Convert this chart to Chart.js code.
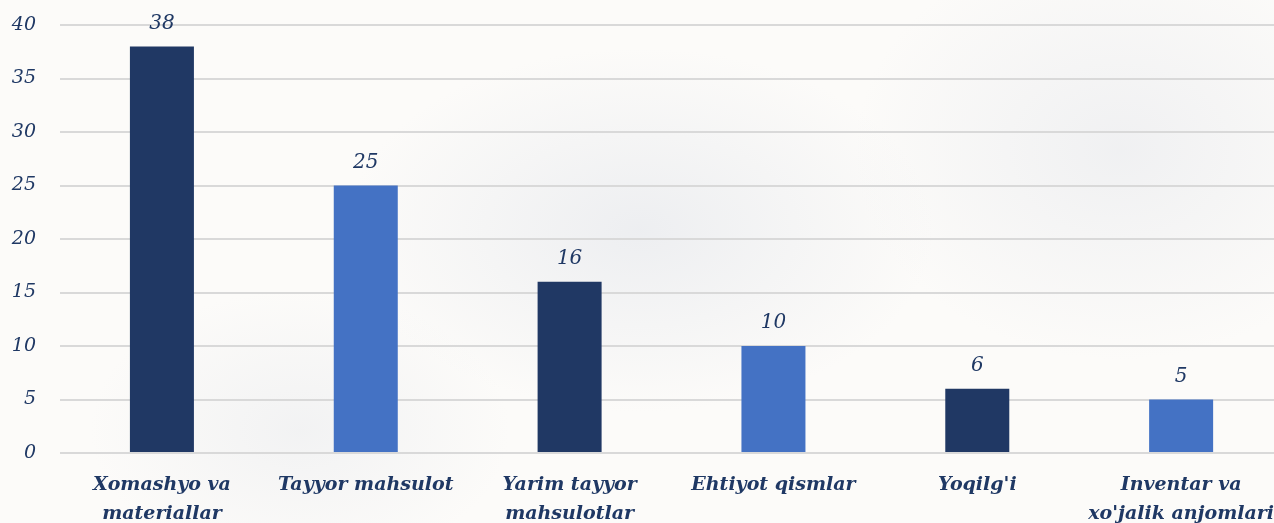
<!DOCTYPE html>
<html>
<head>
<meta charset="utf-8">
<script src="https://cdn.jsdelivr.net/npm/chart.js@4.4.0/dist/chart.umd.min.js"></script>
<style>
  html, body { margin: 0; padding: 0; overflow: hidden; width: 1274px; height: 523px; }
  body {
    background:
      radial-gradient(ellipse 420px 260px at 640px 230px, rgba(225,228,234,0.55), rgba(255,255,255,0) 70%),
      radial-gradient(ellipse 380px 300px at 1120px 150px, rgba(228,230,235,0.5), rgba(255,255,255,0) 70%),
      radial-gradient(ellipse 300px 200px at 300px 430px, rgba(230,232,236,0.45), rgba(255,255,255,0) 70%),
      #fcfbf9;
  }
  canvas { display: block; }
</style>
</head>
<body>
<canvas id="c" width="1292" height="548"></canvas>
<script>
const categories = [
  ["Xomashyo va", "materiallar"],
  "Tayyor mahsulot",
  ["Yarim tayyor", "mahsulotlar"],
  "Ehtiyot qismlar",
  "Yoqilg'i",
  ["Inventar va", "xo'jalik anjomlari"]
];
const values = [38, 25, 16, 10, 6, 5];
const yTicks = [0, 5, 10, 15, 20, 25, 30, 35, 40];

const DARK = '#203864';
const BLUE = '#4472C4';
const TEXT = '#1F3864';
const barColors = values.map((v, i) => i % 2 === 0 ? DARK : BLUE);

const valueLabels = {
  id: 'valueLabels',
  afterDatasetsDraw(chart) {
    const ctx = chart.ctx;
    const meta = chart.getDatasetMeta(0);
    ctx.save();
    ctx.font = 'italic 20px "DejaVu Serif", serif';
    ctx.fillStyle = TEXT;
    ctx.textAlign = 'center';
    ctx.textBaseline = 'middle';
    meta.data.forEach((bar, i) => {
      ctx.fillText(String(values[i]), bar.x, bar.y - 23);
    });
    ctx.restore();
  }
};

new Chart(document.getElementById('c'), {
  type: 'bar',
  data: {
    labels: categories,
    datasets: [{
      data: values,
      backgroundColor: barColors,
      borderWidth: 0,
      categoryPercentage: 1,
      barPercentage: 0.314
    }]
  },
  options: {
    responsive: false,
    animation: false,
    layout: { padding: { top: 25, left: 0, right: 0, bottom: 2 } },
    plugins: { legend: { display: false }, tooltip: { enabled: false } },
    scales: {
      x: {
        grid: { display: false, drawTicks: false },
        border: { display: false },
        ticks: {
          color: TEXT,
          font: { family: '"DejaVu Serif", serif', size: 19, style: 'italic', weight: 'bold', lineHeight: 1.5 },
          padding: 18,
          maxRotation: 0,
          autoSkip: false
        }
      },
      y: {
        min: 0,
        max: 40,
        afterFit(axis) { axis.width = 60; axis.paddingTop = 0; },
        afterBuildTicks(axis) { axis.ticks = yTicks.map(v => ({ value: v })); },
        grid: { color: '#d9d9d9', lineWidth: 2, drawTicks: false },
        border: { display: false },
        ticks: {
          color: TEXT,
          font: { family: '"DejaVu Serif", serif', size: 19, style: 'italic' },
          padding: 24
        }
      }
    }
  },
  plugins: [valueLabels]
});
</script>
</body>
</html>
